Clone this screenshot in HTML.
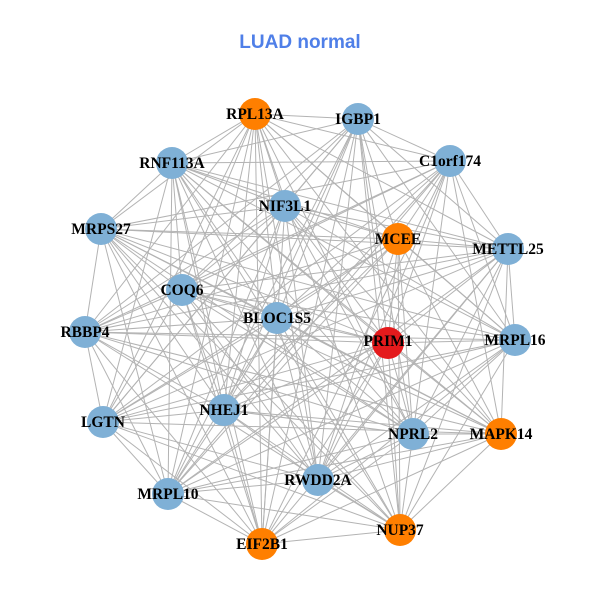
<!DOCTYPE html>
<html><head><meta charset="utf-8"><style>
html,body{margin:0;padding:0;background:#fff;width:600px;height:600px;overflow:hidden}
svg text{font-family:"Liberation Serif",serif;font-weight:bold;font-size:15.5px;fill:#000}
</style></head><body>
<svg id="g" width="600" height="600" xmlns="http://www.w3.org/2000/svg">
<text x="300" y="48" text-anchor="middle" style="font-family:'Liberation Sans',sans-serif;font-size:19px;fill:#4F7FE8;font-weight:bold">LUAD normal</text>
<g id="edges" stroke="#b3b3b3" stroke-width="1"></g>
<g id="nodes"></g>
<g id="labels">
<text x="255" y="119" text-anchor="middle">RPL13A</text>
<text x="358" y="124" text-anchor="middle">IGBP1</text>
<text x="172" y="168" text-anchor="middle">RNF113A</text>
<text x="450" y="166" text-anchor="middle">C1orf174</text>
<text x="285" y="211" text-anchor="middle">NIF3L1</text>
<text x="101" y="234" text-anchor="middle">MRPS27</text>
<text x="398" y="244" text-anchor="middle">MCEE</text>
<text x="508" y="254" text-anchor="middle">METTL25</text>
<text x="182" y="295" text-anchor="middle">COQ6</text>
<text x="277" y="323" text-anchor="middle">BLOC1S5</text>
<text x="85" y="337" text-anchor="middle">RBBP4</text>
<text x="388" y="346" text-anchor="middle">PRIM1</text>
<text x="515" y="345" text-anchor="middle">MRPL16</text>
<text x="224" y="415" text-anchor="middle">NHEJ1</text>
<text x="103" y="427" text-anchor="middle">LGTN</text>
<text x="413" y="439" text-anchor="middle">NPRL2</text>
<text x="501" y="439" text-anchor="middle">MAPK14</text>
<text x="318" y="485" text-anchor="middle">RWDD2A</text>
<text x="168" y="499" text-anchor="middle">MRPL10</text>
<text x="262" y="549" text-anchor="middle">EIF2B1</text>
<text x="400" y="535" text-anchor="middle">NUP37</text>
</g>
</svg>
<script>
var B="#7FB0D6",O="#FF7F00",R="#E41A1C";
var N=[[255,114,O],[358,119,B],[172,163,B],[450,161,B],[285,206,B],[101,229,B],[398,239,O],[508,249,B],[182,290,B],[277,318,B],[85,332,B],[388,343,R],[515,340,B],[224,410,B],[103,422,B],[413,434,B],[501,434,O],[318,480,B],[168,494,B],[262,544,O],[400,530,O]];
var ns="http://www.w3.org/2000/svg",E=document.getElementById("edges"),V=document.getElementById("nodes");
for(var i=0;i<N.length;i++)for(var j=i+1;j<N.length;j++){
 if((i*7+j*3)%11==0)continue;
 var l=document.createElementNS(ns,"line");
 l.setAttribute("x1",N[i][0]);l.setAttribute("y1",N[i][1]);l.setAttribute("x2",N[j][0]);l.setAttribute("y2",N[j][1]);E.appendChild(l);}
N.forEach(function(n){var c=document.createElementNS(ns,"circle");c.setAttribute("cx",n[0]);c.setAttribute("cy",n[1]);c.setAttribute("r",16);c.setAttribute("fill",n[2]);V.appendChild(c);});
</script>
</body></html>
